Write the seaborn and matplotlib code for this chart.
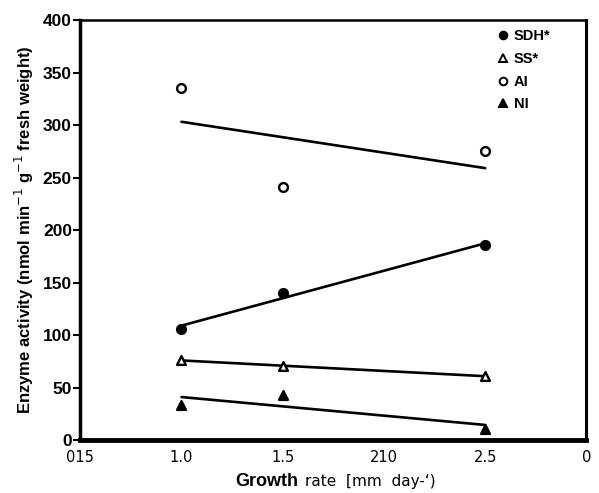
import numpy as np
import matplotlib
matplotlib.use('Agg')
import matplotlib.pyplot as plt
import pandas as pd
import seaborn as sns

# Values
growth_rate = [1.0, 1.5, 2.5]
sdh = [106, 140, 186]
ss = [76, 71, 61]
ai = [335, 241, 275]
ni = [34, 43, 11]

enzymes = ['SDH*', 'SS*', 'AI', 'NI']
x_ticks = [0.5, 1.0, 1.5, 2.0, 2.5, 3.0]
x_tick_labels = ['015', '1.0', '1.5', '210', '2.5', '0']
y_ticks = [0, 50, 100, 150, 200, 250, 300, 350, 400]

df = pd.DataFrame({
    'growth': growth_rate * 4,
    'activity': sdh + ss + ai + ni,
    'enzyme': np.repeat(enzymes, len(growth_rate)),
})

sns.set_style('white')
plt.rcParams['font.family'] = ['Liberation Sans', 'DejaVu Sans']
plt.rcParams['text.color'] = 'black'
plt.rcParams['axes.labelcolor'] = 'black'
plt.rcParams['xtick.color'] = 'black'
plt.rcParams['ytick.color'] = 'black'

# marker style per enzyme: (marker, filled)
styles = {'SDH*': ('o', True), 'SS*': ('^', False), 'AI': ('o', False), 'NI': ('^', True)}

fig = plt.figure(figsize=(5.99, 4.93), dpi=100)
ax = fig.add_axes([0.134, 0.107, 0.845, 0.852])

for name in enzymes:
    sub = df[df['enzyme'] == name]
    marker, filled = styles[name]
    sns.regplot(data=sub, x='growth', y='activity', ax=ax, ci=None, marker=marker,
                color='black',
                scatter_kws={'s': 40,
                             'facecolors': 'black' if filled else 'white',
                             'edgecolors': 'black', 'linewidths': 1.7, 'alpha': 1,
                             'zorder': 3},
                line_kws={'color': 'black', 'lw': 1.9})
    # proxy for the legend
    ax.plot([], [], ls='none', marker=marker, ms=5.5, mec='black', mew=1.4,
            mfc='black' if filled else 'white', label=name)

ax.set_xlim(0.5, 3.0)
ax.set_ylim(0, 400)
ax.set_xticks(x_ticks)
ax.set_xticklabels(x_tick_labels, family='Liberation Sans Narrow', fontsize=10.5)
ax.set_xticks([2.5], minor=True)
ax.set_yticks(y_ticks)
ax.set_yticklabels([str(v) for v in y_ticks], fontweight='bold', fontsize=12.5)
ax.tick_params(axis='y', direction='out', length=5, width=1.5, pad=1, left=True)
ax.tick_params(axis='x', which='major', direction='out', length=0, pad=7)
ax.tick_params(axis='x', which='minor', direction='out', length=9, width=0.6,
               bottom=True)

ax.set_ylabel('Enzyme activity (nmol min$^{-1}$ g$^{-1}$ fresh weight)',
              fontweight='bold', fontsize=12, labelpad=5)
ax.set_xlabel('')
fig.text(0.393, 0.014, 'Growth', fontweight='bold', fontsize=13, ha='left', va='baseline')
fig.text(0.51, 0.014, 'rate  [mm  day-\u2018)', family='Liberation Sans Narrow',
         fontsize=11, ha='left', va='baseline')

for side, lw in [('left', 2.5), ('bottom', 3.5), ('top', 1.8), ('right', 2.2)]:
    ax.spines[side].set_visible(True)
    ax.spines[side].set_linewidth(lw)
    ax.spines[side].set_color('black')

ax.legend(loc='upper right', bbox_to_anchor=(0.955, 1.01), frameon=False,
          handletextpad=0.25, labelspacing=0.6, handlelength=1.0,
          prop={'weight': 'bold', 'size': 10.5})

fig.savefig('out.png', dpi=100)
